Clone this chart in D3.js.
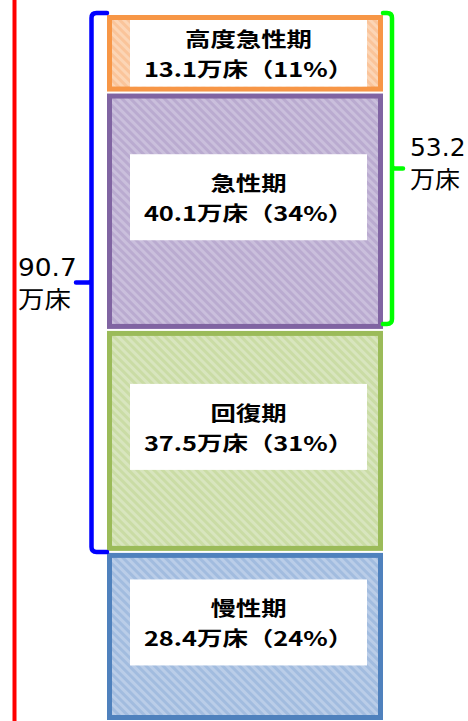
<!DOCTYPE html>
<html>
<head>
<meta charset="utf-8">
<script src="https://cdn.jsdelivr.net/npm/d3@7"></script>
<style>
  body { margin: 0; background: #fff; }
  svg { display: block; }
</style>
</head>
<body>
<div id="chart"></div>
<script>
// bed counts by function (万床), top to bottom
const stages = ["高度急性期", "急性期", "回復期", "慢性期"];
const beds = [13.1, 40.1, 37.5, 28.4];
const shares = [11, 34, 31, 24];

const strokeColors = ["#F79646", "#8064A2", "#9BBB59", "#4F81BD"];
const baseColors = ["#FAC49A", "#BAABD0", "#CADCA5", "#A2BCDF"];
const lightColors = ["#FCD5B5", "#CABFDC", "#D8E5BE", "#BACDE8"];

var width = 468,
  height = 721;

var svg = d3
  .select("#chart")
  .append("svg")
  .attr("width", width)
  .attr("height", height)
  .attr("viewBox", [0, 0, width, height]);

var total = d3.sum(beds);
var cum = [0];
beds.forEach(function(v, i) { cum.push(cum[i] + v); });

var y = d3.scaleLinear().domain([0, total]).range([15, 720]);

// hatch patterns
var defs = svg.append("defs");
stages.forEach(function(s, i) {
  var p = defs
    .append("pattern")
    .attr("id", "hatch" + i)
    .attr("patternUnits", "userSpaceOnUse")
    .attr("width", 6)
    .attr("height", 6)
    .attr("patternTransform", "rotate(-45)");
  p.append("rect").attr("width", 6).attr("height", 6).attr("fill", baseColors[i]);
  p.append("rect").attr("width", 3).attr("height", 6).attr("fill", lightColors[i]);
});

// red line at the far left
svg
  .append("line")
  .attr("x1", 14.5)
  .attr("x2", 14.5)
  .attr("y1", 0)
  .attr("y2", height)
  .attr("stroke", "#FF0000")
  .attr("stroke-width", 4);

var boxX = 107,
  boxW = 276,
  sw = 5;

var blocks = svg.append("g").attr("class", "blocks");

stages.forEach(function(s, i) {
  var top = y(cum[i]) + (i > 0 ? 1 : 0);
  var bot = y(cum[i + 1]) - (i < stages.length - 1 ? 1 : 0);
  var g = blocks.append("g");

  g.append("rect")
    .attr("x", boxX + sw / 2)
    .attr("y", top + sw / 2)
    .attr("width", boxW - sw)
    .attr("height", bot - top - sw)
    .attr("fill", "url(#hatch" + i + ")")
    .attr("stroke", strokeColors[i])
    .attr("stroke-width", sw);

  // white label box
  var inTop = top + sw,
    inBot = bot - sw;
  var inH = inBot - inTop;
  var h = Math.min(86, inH);
  var shift = Math.min(14, (inH - h) / 2);
  var cy = (inTop + inBot) / 2 - shift;
  var lx = 130,
    lw = 237;

  g.append("rect")
    .attr("x", lx)
    .attr("y", cy - h / 2)
    .attr("width", lw)
    .attr("height", h)
    .attr("fill", "#fff");

  var cx = lx + lw / 2;
  var lines = [s, beds[i].toFixed(1) + "万床（" + shares[i] + "%）"];
  lines.forEach(function(t, j) {
    g.append("text")
      .attr("transform", "translate(" + cx + "," + (cy + (j == 0 ? -6 : 24)) + ") scale(1.27,1)")
      .attr("text-anchor", "middle")
      .attr("font-family", "'Noto Sans CJK JP', sans-serif")
      .attr("font-weight", "bold")
      .attr("font-size", 20)
      .attr("fill", "#000")
      .text(t);
  });
});

// brackets
function bracket(x, tip, y0, y1, notch, color) {
  var r = 5;
  var dir = tip > x ? 1 : -1;
  var nd = notch > x ? 1 : -1;
  var mid = (y0 + y1) / 2;
  var d =
    "M" + tip + "," + y0 +
    " H" + (x + dir * r) +
    " Q" + x + "," + y0 + " " + x + "," + (y0 + r) +
    " V" + (y1 - r) +
    " Q" + x + "," + y1 + " " + (x + dir * r) + "," + y1 +
    " H" + tip +
    " M" + x + "," + (mid - 3) +
    " Q" + x + "," + mid + " " + (x + nd * 3) + "," + mid +
    " H" + notch;
  svg
    .append("path")
    .attr("d", d)
    .attr("fill", "none")
    .attr("stroke", color)
    .attr("stroke-width", 4.5)
    .attr("stroke-linecap", "round");
  return mid;
}

function bracketLabel(x, mid, value, dy, sx) {
  [value.toFixed(1), "万床"].forEach(function(t, j) {
    svg
      .append("text")
      .attr("transform", "translate(" + x + "," + (mid + dy + j * 32) + ") scale(" + sx + ",1)")
      .attr("font-family", "'DejaVu Sans', 'Noto Sans CJK JP', sans-serif")
      .attr("font-size", 24)
      .attr("fill", "#000")
      .text(t);
  });
}

var acuteTotal = cum[3];
var blueMid = bracket(91.5, 107, y(0) - 2, y(acuteTotal), 76, "#0000FF");
bracketLabel(18, blueMid, acuteTotal, -6, 1.1);

var highTotal = cum[2];
var greenMid = bracket(392, 383, y(0) - 2, y(highTotal) - 6, 403, "#00FF00");
bracketLabel(410, greenMid, highTotal, -12, 1.04);
</script>
</body>
</html>
